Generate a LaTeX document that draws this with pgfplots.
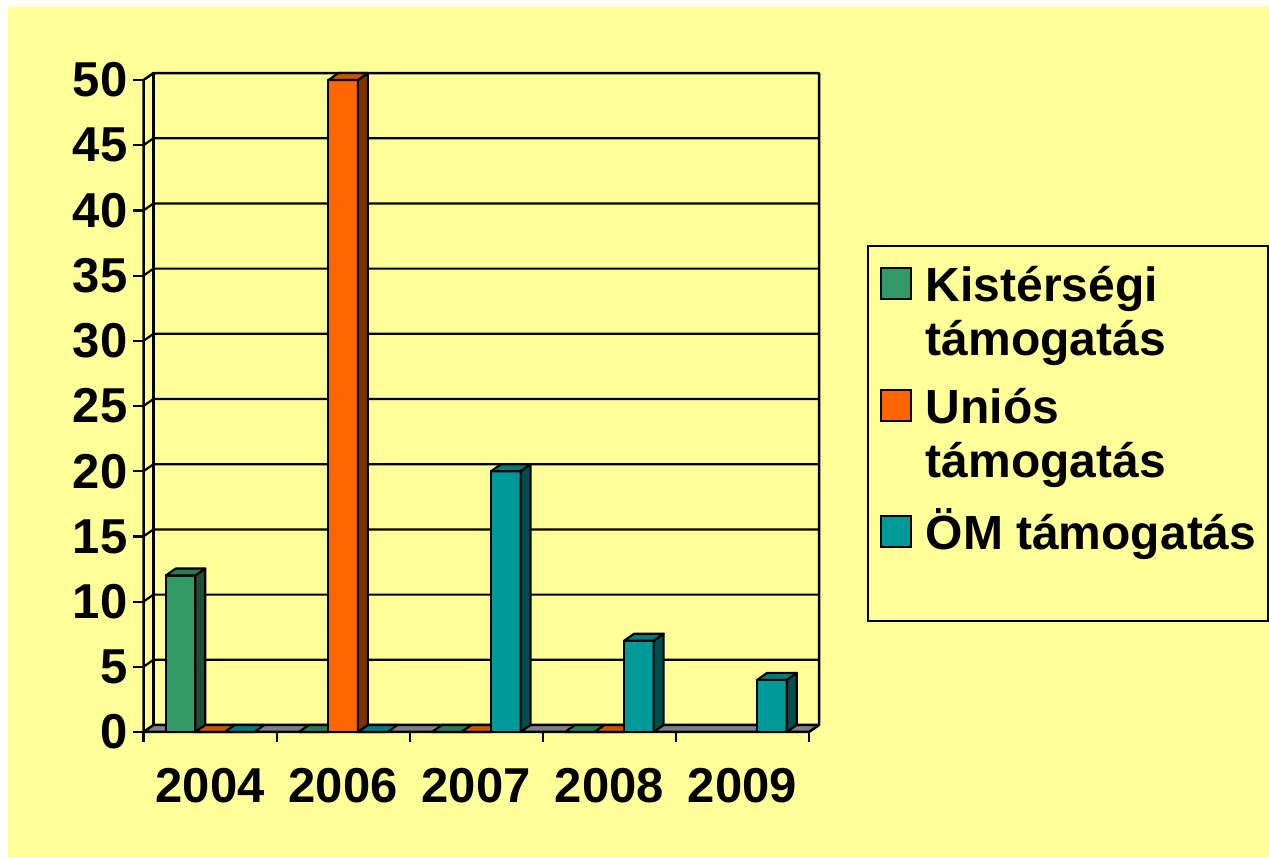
\documentclass[border=0pt]{standalone}
\usepackage{fontspec}
\setmainfont{Liberation Sans}
\usepackage{pgfplots}
\pgfplotsset{compat=1.18}
\definecolor{bgy}{HTML}{FFFF99}
\definecolor{G}{HTML}{339966}\definecolor{Gt}{HTML}{2A7A52}\definecolor{Gs}{HTML}{1F4D36}
\definecolor{O}{HTML}{FF6600}\definecolor{Ot}{HTML}{CC5200}\definecolor{Os}{HTML}{803300}
\definecolor{T}{HTML}{009999}\definecolor{Tt}{HTML}{007A7A}\definecolor{Ts}{HTML}{004D4D}
\definecolor{floorgray}{HTML}{808080}
\newcommand\bw{0.222}
\newcommand\ddx{0.0751}
\newcommand\ddy{0.537}
% 3D bar: #1 left x, #2 value, #3 front, #4 top, #5 side colour
\newcommand\tdbar[5]{%
  \pgfmathsetmacro\tdXa{#1}%
  \pgfmathsetmacro\tdXb{#1+\bw}%
  \pgfmathsetmacro\tdXc{#1+\ddx}%
  \pgfmathsetmacro\tdXd{#1+\bw+\ddx}%
  \pgfmathsetmacro\tdH{#2+\ddy}%
  \ifdim #2pt>0pt
    \addplot[forget plot, fill=#3, draw=black, line width=2.1bp, line join=round]
      coordinates {(\tdXa,0) (\tdXb,0) (\tdXb,#2) (\tdXa,#2)} -- cycle;
    \addplot[forget plot, fill=#5, draw=black, line width=2.1bp, line join=round]
      coordinates {(\tdXb,0) (\tdXd,\ddy) (\tdXd,\tdH) (\tdXb,#2)} -- cycle;
  \fi
  \addplot[forget plot, fill=#4, draw=black, line width=2.1bp, line join=round]
    coordinates {(\tdXa,#2) (\tdXb,#2) (\tdXd,\tdH) (\tdXc,\tdH)} -- cycle;
}
\newcommand\BigFont{\fontsize{49bp}{54bp}\selectfont\bfseries}
\newcommand\LegFont{\fontsize{48bp}{54bp}\selectfont\bfseries}
\begin{document}
\begin{tikzpicture}
\useasboundingbox (0,0) rectangle (1269bp,858bp);
\fill[white] (0,0) rectangle (1269bp,858bp);
\fill[bgy] (8bp,0) rectangle (1269bp,851bp);
\begin{axis}[
  at={(143.5bp,126bp)}, anchor=south west,
  scale only axis, width=675.5bp, height=659bp,
  xmin=0, xmax=5.0751, ymin=0, ymax=50.54,
  clip=false,
  axis x line*=bottom, axis y line*=left,
  axis line style={draw=none},
  tick align=outside,
  major tick length=10bp,
  major tick style={draw=black, line width=2.2bp},
  ytick={0,5,...,50},
  xtick={0,1,2,3,4,5},
  x tick label as interval,
  xticklabels={2004,2006,2007,2008,2009},
  /pgf/number format/assume math mode=true,
  tick label style={font=\BigFont, inner sep=0pt},
  yticklabel style={xshift=-6bp},
  xticklabel style={yshift=-26bp},
  legend style={at={(1.0706,0.739)}, anchor=north west, draw=black,
    line width=2bp, fill=bgy, inner xsep=12bp, inner ysep=12bp,
    row sep=0bp, column sep=14bp, font=\LegFont, nodes={inner sep=0pt},
    cells={anchor=base west}},
]
% back wall grid lines with the left-wall diagonals
\addplot[forget plot, black, line width=2.2bp] coordinates {(0,5) (0.0751,5.537) (5.0751,5.537)};
\addplot[forget plot, black, line width=2.2bp] coordinates {(0,10) (0.0751,10.537) (5.0751,10.537)};
\addplot[forget plot, black, line width=2.2bp] coordinates {(0,15) (0.0751,15.537) (5.0751,15.537)};
\addplot[forget plot, black, line width=2.2bp] coordinates {(0,20) (0.0751,20.537) (5.0751,20.537)};
\addplot[forget plot, black, line width=2.2bp] coordinates {(0,25) (0.0751,25.537) (5.0751,25.537)};
\addplot[forget plot, black, line width=2.2bp] coordinates {(0,30) (0.0751,30.537) (5.0751,30.537)};
\addplot[forget plot, black, line width=2.2bp] coordinates {(0,35) (0.0751,35.537) (5.0751,35.537)};
\addplot[forget plot, black, line width=2.2bp] coordinates {(0,40) (0.0751,40.537) (5.0751,40.537)};
\addplot[forget plot, black, line width=2.2bp] coordinates {(0,45) (0.0751,45.537) (5.0751,45.537)};
% walls
\addplot[forget plot, black, line width=2.5bp, line join=round] coordinates {(0,0) (0,50) (0.0751,50.537) (5.0751,50.537) (5.0751,0.537)};
\addplot[forget plot, black, line width=2.2bp] coordinates {(0.0751,0.537) (0.0751,50.537)};
% floor
\addplot[forget plot, fill=floorgray, draw=black, line width=2.5bp, line join=round] coordinates {(0,0) (5,0) (5.0751,0.537) (0.0751,0.537)} -- cycle;
% bars: 2004
\tdbar{0.167}{12}{G}{Gt}{Gs}
\tdbar{0.389}{0}{O}{Ot}{Os}
\tdbar{0.611}{0}{T}{Tt}{Ts}
% 2006
\tdbar{1.167}{0}{G}{Gt}{Gs}
\tdbar{1.389}{50}{O}{Ot}{Os}
\tdbar{1.611}{0}{T}{Tt}{Ts}
% 2007
\tdbar{2.167}{0}{G}{Gt}{Gs}
\tdbar{2.389}{0}{O}{Ot}{Os}
\tdbar{2.611}{20}{T}{Tt}{Ts}
% 2008
\tdbar{3.167}{0}{G}{Gt}{Gs}
\tdbar{3.389}{0}{O}{Ot}{Os}
\tdbar{3.611}{7}{T}{Tt}{Ts}
% 2009
\tdbar{4.611}{4}{T}{Tt}{Ts}
% legend
\addlegendimage{legend image code/.code={\path[draw=none,fill=none] (0bp,-78bp) rectangle (30bp,44bp);
  \draw[fill=G, draw=black, line width=2bp] (0bp,3bp) rectangle (30bp,34bp);}}
\addlegendentry{\parbox[t]{300bp}{Kistérségi\\támogatás}}
\addlegendimage{legend image code/.code={\path[draw=none,fill=none] (0bp,-82bp) rectangle (30bp,44bp);
  \draw[fill=O, draw=black, line width=2bp] (0bp,3bp) rectangle (30bp,34bp);}}
\addlegendentry{\parbox[t]{300bp}{Uniós\\támogatás}}
\addlegendimage{legend image code/.code={\path[draw=none,fill=none] (0bp,-59bp) rectangle (30bp,44bp);
  \draw[fill=T, draw=black, line width=2bp] (0bp,3bp) rectangle (30bp,34bp);}}
\addlegendentry{ÖM támogatás}
\end{axis}
\end{tikzpicture}
\end{document}
